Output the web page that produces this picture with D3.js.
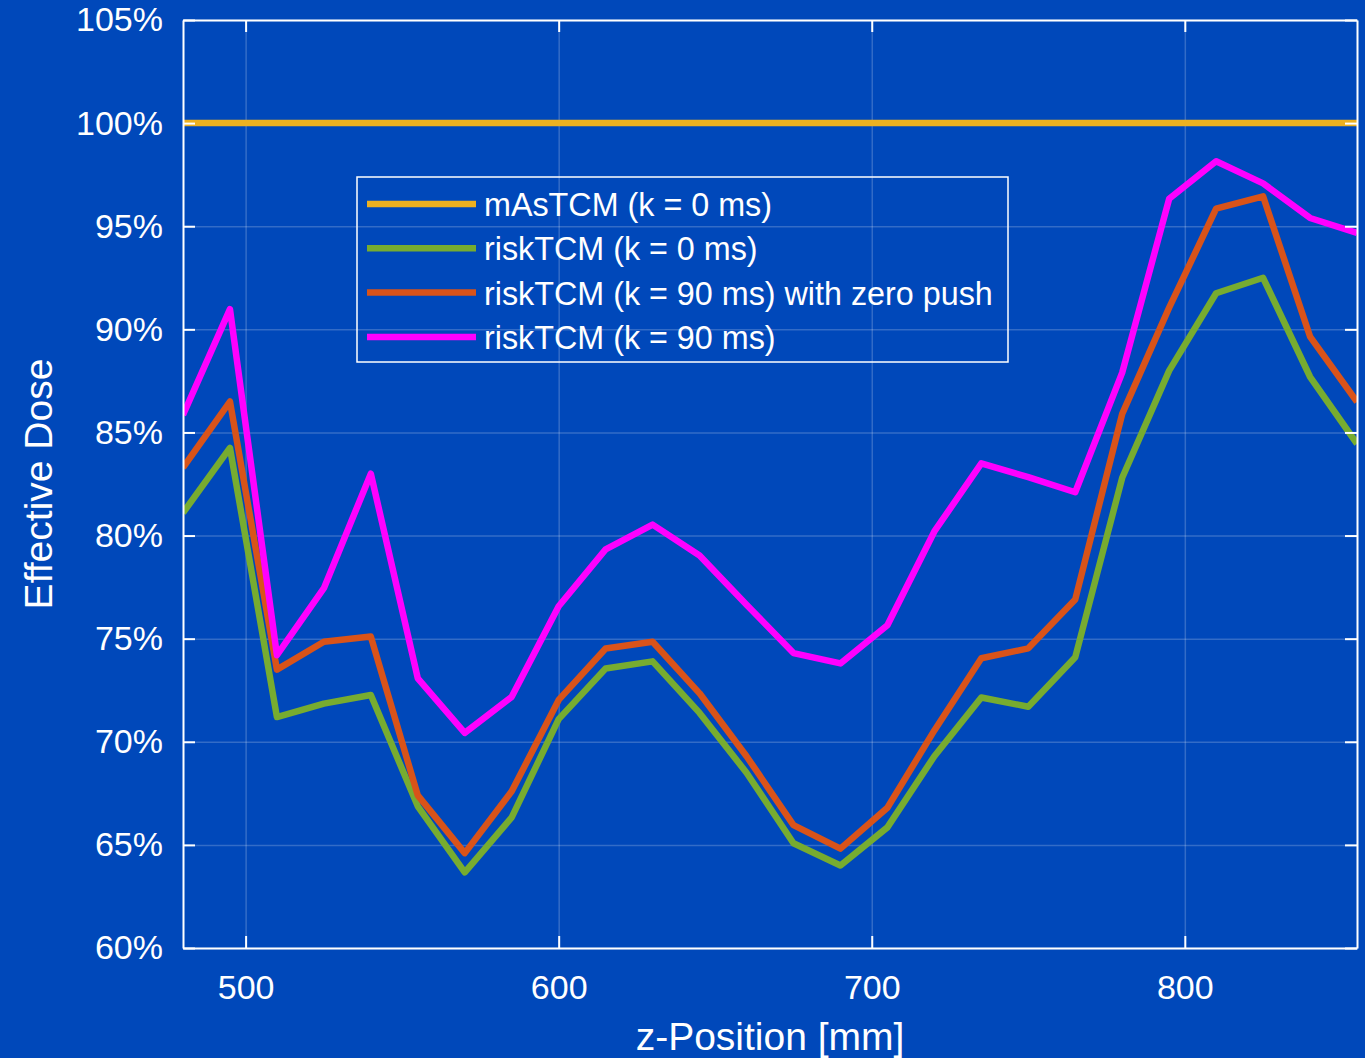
<!DOCTYPE html>
<html>
<head>
<meta charset="utf-8">
<script src="https://cdn.jsdelivr.net/npm/d3@7"></script>
<style>
  html, body { margin: 0; padding: 0; background: #0048BA; }
  svg { display: block; }
  text { font-family: "Liberation Sans", Arial, Helvetica, sans-serif; fill: #ffffff; }
</style>
</head>
<body>
<script>
// ---- data ----
const zPositions = [480, 495, 510, 525, 540, 555, 570, 585, 600, 615, 630, 645, 660, 675, 690, 705, 720, 735, 750, 765, 780, 795, 810, 825, 840, 855];
const masTCM0 = [100, 100, 100, 100, 100, 100, 100, 100, 100, 100, 100, 100, 100, 100, 100, 100, 100, 100, 100, 100, 100, 100, 100, 100, 100, 100];
const riskTCM0 = [81.1, 84.25, 71.2, 71.85, 72.27, 66.87, 63.67, 66.33, 71.1, 73.55, 73.9, 71.4, 68.5, 65.08, 64.0, 65.85, 69.3, 72.15, 71.7, 74.1, 82.8, 88.0, 91.75, 92.5, 87.7, 84.45];
const riskTCM90zp = [83.3, 86.5, 73.5, 74.85, 75.1, 67.4, 64.6, 67.6, 72.03, 74.52, 74.85, 72.35, 69.3, 65.96, 64.82, 66.8, 70.55, 74.05, 74.53, 76.9, 85.9, 91.05, 95.85, 96.45, 89.65, 86.48];
const riskTCM90 = [85.85, 90.98, 74.2, 77.45, 83.0, 73.08, 70.43, 72.18, 76.57, 79.33, 80.53, 79.03, 76.65, 74.3, 73.8, 75.65, 80.2, 83.5, 82.83, 82.1, 87.9, 96.33, 98.15, 97.08, 95.4, 94.67];
const seriesNames = ["mAsTCM (k = 0 ms)", "riskTCM (k = 0 ms)", "riskTCM (k = 90 ms) with zero push", "riskTCM (k = 90 ms)"];
const seriesColors = ["#EDB120", "#77AC30", "#D95319", "#FF00FF"];
const xTickValues = [500, 600, 700, 800];
const yTickValues = [60, 65, 70, 75, 80, 85, 90, 95, 100, 105];
const xLabel = "z-Position [mm]";
const yLabel = "Effective Dose";

// ---- layout ----
const W = 1365, H = 1058;
const m = { left: 183, top: 20, right: 8, bottom: 110 };
const pw = W - m.left - m.right, ph = H - m.top - m.bottom;

const svg = d3.select("body").append("svg").attr("width", W).attr("height", H);
svg.append("rect").attr("width", W).attr("height", H).attr("fill", "#0048BA");

const x = d3.scaleLinear().domain([480, 855]).range([0, pw]);
const y = d3.scaleLinear().domain([60, 105]).range([ph, 0]);

const g = svg.append("g").attr("transform", `translate(${m.left},${m.top})`);

// grid
const grid = g.append("g").attr("class", "grid");
grid.append("g").call(d3.axisBottom(x).tickValues(xTickValues).tickSize(ph).tickFormat(""))
  .call(s => s.select(".domain").remove());
grid.append("g").call(d3.axisLeft(y).tickValues(yTickValues).tickSize(-pw).tickFormat(""))
  .call(s => s.select(".domain").remove());
grid.selectAll("line").attr("stroke", "#ffffff").attr("stroke-opacity", 0.2).attr("stroke-width", 1.5);

// series
const allSeries = [masTCM0, riskTCM0, riskTCM90zp, riskTCM90];
const line = d3.line().x((d, i) => x(zPositions[i])).y(d => y(d));
const clip = svg.append("defs").append("clipPath").attr("id", "plotclip");
clip.append("rect").attr("x", 0).attr("y", -4).attr("width", pw).attr("height", ph + 8);
const lines = g.append("g").attr("clip-path", "url(#plotclip)");
allSeries.forEach((s, k) => {
  lines.append("path").datum(s)
    .attr("d", line)
    .attr("fill", "none")
    .attr("stroke", seriesColors[k])
    .attr("stroke-width", 6.5)
    .attr("stroke-linejoin", "round");
});

// axes
const axStyle = s => {
  s.selectAll("path.domain").attr("stroke", "#ffffff").attr("stroke-width", 2);
  s.selectAll(".tick line").attr("stroke", "#ffffff").attr("stroke-width", 2);
  s.selectAll("text").attr("fill", "#ffffff").attr("font-size", 34)
    .attr("font-family", '"Liberation Sans", Arial, Helvetica, sans-serif');
};
g.append("g").attr("transform", `translate(0,${ph})`)
  .call(d3.axisBottom(x).tickValues(xTickValues).tickSize(-12).tickSizeOuter(0).tickPadding(27))
  .call(axStyle);
g.append("g")
  .call(d3.axisTop(x).tickValues(xTickValues).tickSize(-12).tickSizeOuter(0).tickFormat(""))
  .call(axStyle);
g.append("g")
  .call(d3.axisLeft(y).tickValues(yTickValues).tickSize(-12).tickSizeOuter(0).tickPadding(20).tickFormat(d => d + "%"))
  .call(axStyle);
g.append("g").attr("transform", `translate(${pw},0)`)
  .call(d3.axisRight(y).tickValues(yTickValues).tickSize(-12).tickSizeOuter(0).tickFormat(""))
  .call(axStyle);

// axis labels
svg.append("text")
  .attr("x", m.left + pw / 2).attr("y", 1050)
  .attr("text-anchor", "middle").attr("font-size", 39)
  .text(xLabel);
svg.append("text")
  .attr("transform", `translate(52,${m.top + ph / 2}) rotate(-90)`)
  .attr("text-anchor", "middle").attr("font-size", 39)
  .text(yLabel);

// legend
const lg = svg.append("g").attr("transform", "translate(357,177)");
lg.append("rect").attr("width", 651).attr("height", 185)
  .attr("fill", "none").attr("stroke", "#ffffff").attr("stroke-width", 1.5);
seriesNames.forEach((name, k) => {
  const yy = 27 + k * 44.3;
  lg.append("line").attr("x1", 10).attr("x2", 119).attr("y1", yy).attr("y2", yy)
    .attr("stroke", seriesColors[k]).attr("stroke-width", 6.5);
  lg.append("text").attr("x", 127).attr("y", yy + 12)
    .attr("font-size", 32.3).text(name);
});
</script>
</body>
</html>
